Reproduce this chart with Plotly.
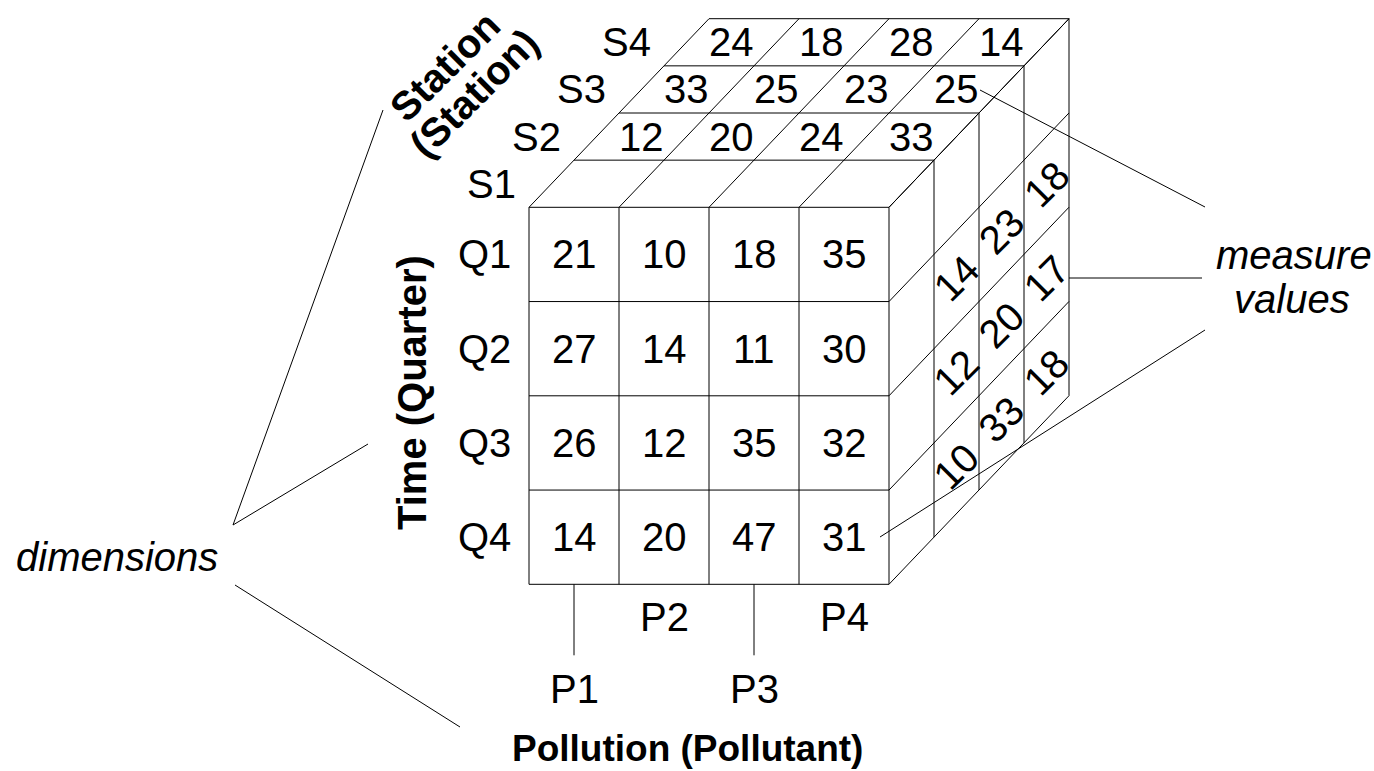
import plotly.graph_objects as go

# ---------------- data ----------------
quarters = ["Q1", "Q2", "Q3", "Q4"]
pollutants = ["P1", "P2", "P3", "P4"]
stations = ["S1", "S2", "S3", "S4"]

# front face: station S1, rows = quarters, cols = pollutants
front_values = [
    [21, 10, 18, 35],
    [27, 14, 11, 30],
    [26, 12, 35, 32],
    [14, 20, 47, 31],
]
# top face: rows = stations S2..S4, cols = pollutants
top_stations = ["S2", "S3", "S4"]
top_values = [
    [12, 20, 24, 33],
    [33, 25, 23, 25],
    [24, 18, 28, 14],
]
# right face: rows = quarters Q2..Q4, depth = stations S2..S4
right_quarters = ["Q2", "Q3", "Q4"]
right_values = [
    [14, 23, 18],
    [12, 20, 17],
    [10, 33, 18],
]

# ---------------- geometry ----------------
W, H = 1374, 771
X0, Y0 = 529.0, 207.3      # front top-left corner
CW, CH = 90.0, 94.25       # cell width / height on front face
DX, DY = 45.0, -47.15      # offset per depth layer

FONT = "Liberation Sans, Arial, sans-serif"
FS = 40
LINE = dict(color="#000000", width=1)

def fx(j):
    return X0 + CW * j

def fy(i):
    return Y0 + CH * i

shapes = []
def seg(x0, y0, x1, y1):
    shapes.append(dict(type="line", xref="x", yref="y", x0=x0, y0=y0, x1=x1, y1=y1,
                       line=LINE, layer="above"))

n = 4
# front face grid
for i in range(n + 1):
    seg(fx(0), fy(i), fx(n), fy(i))
for j in range(n + 1):
    seg(fx(j), fy(0), fx(j), fy(n))
# top face
for k in range(1, n + 1):
    seg(fx(0) + DX * k, fy(0) + DY * k, fx(n) + DX * k, fy(0) + DY * k)
for j in range(n + 1):
    seg(fx(j), fy(0), fx(j) + DX * n, fy(0) + DY * n)
# right face
for k in range(1, n + 1):
    seg(fx(n) + DX * k, fy(0) + DY * k, fx(n) + DX * k, fy(n) + DY * k)
for i in range(n + 1):
    seg(fx(n), fy(i), fx(n) + DX * n, fy(i) + DY * n)

annotations = []
def txt(x, y, t, size=FS, angle=0, xanchor="center"):
    annotations.append(dict(x=x, y=y, xref="x", yref="y", text=t, showarrow=False,
                            font=dict(family=FONT, size=size, color="#000000"),
                            textangle=angle, xanchor=xanchor, yanchor="middle"))

# front values
for i, row in enumerate(front_values):
    for j, v in enumerate(row):
        txt(fx(j) + CW / 2, fy(i) + CH / 2, str(v))
# top values
for r, st in enumerate(top_stations):
    k = stations.index(st)
    for j, v in enumerate(top_values[r]):
        txt(fx(j) + CW / 2 + DX * (k + 0.5), fy(0) + DY * (k + 0.5), str(v))
# right values
for r, q in enumerate(right_quarters):
    i = quarters.index(q)
    for d, v in enumerate(right_values[r]):
        k = d + 1
        txt(fx(n) + DX * (k + 0.5), fy(i) + CH / 2 + DY * (k + 0.5), str(v), angle=-45)

# dimension member labels
for k, s in enumerate(stations):
    txt(fx(0) + DX * (k + 0.5) - 60, fy(0) + DY * (k + 0.5), s)
for i, q in enumerate(quarters):
    txt(484, fy(i) + CH / 2, q)
for j, p in enumerate(pollutants):
    low = (j % 2 == 0)
    y = fy(n) + (105 if low else 33)
    txt(fx(j) + CW / 2, y, p)
    if low:
        seg(fx(j) + CW / 2, fy(n), fx(j) + CW / 2, fy(n) + 71)

# axis titles
txt(687, 748, "<b>Pollution (Pollutant)</b>", size=37)
txt(412, 393, "<b>Time (Quarter)</b>", angle=-90)
txt(445, 66, "<b>Station</b>", angle=-45)
txt(474, 93, "<b>(Station)</b>", angle=-45)

# callouts
txt(117, 557, "<i>dimensions</i>")
txt(1294, 255, "<i>measure</i>")
txt(1292, 299, "<i>values</i>")

# leader lines
seg(233, 525, 383, 110)
seg(233, 525, 368, 444)
seg(235, 585, 460, 727)
seg(980, 90, 1205, 207)
seg(1069, 278, 1202, 278)
seg(880, 537, 1205, 330)

fig = go.Figure()
fig.update_layout(
    width=W, height=H,
    margin=dict(l=0, r=0, t=0, b=0),
    paper_bgcolor="white", plot_bgcolor="white",
    xaxis=dict(range=[0, W], visible=False, fixedrange=True),
    yaxis=dict(range=[H, 0], visible=False, fixedrange=True),
    shapes=shapes, annotations=annotations, showlegend=False,
)
fig.write_html(
    "out.html",
    config={"displayModeBar": False},
    post_script="document.body.style.margin='0';document.body.style.overflow='hidden';",
)
